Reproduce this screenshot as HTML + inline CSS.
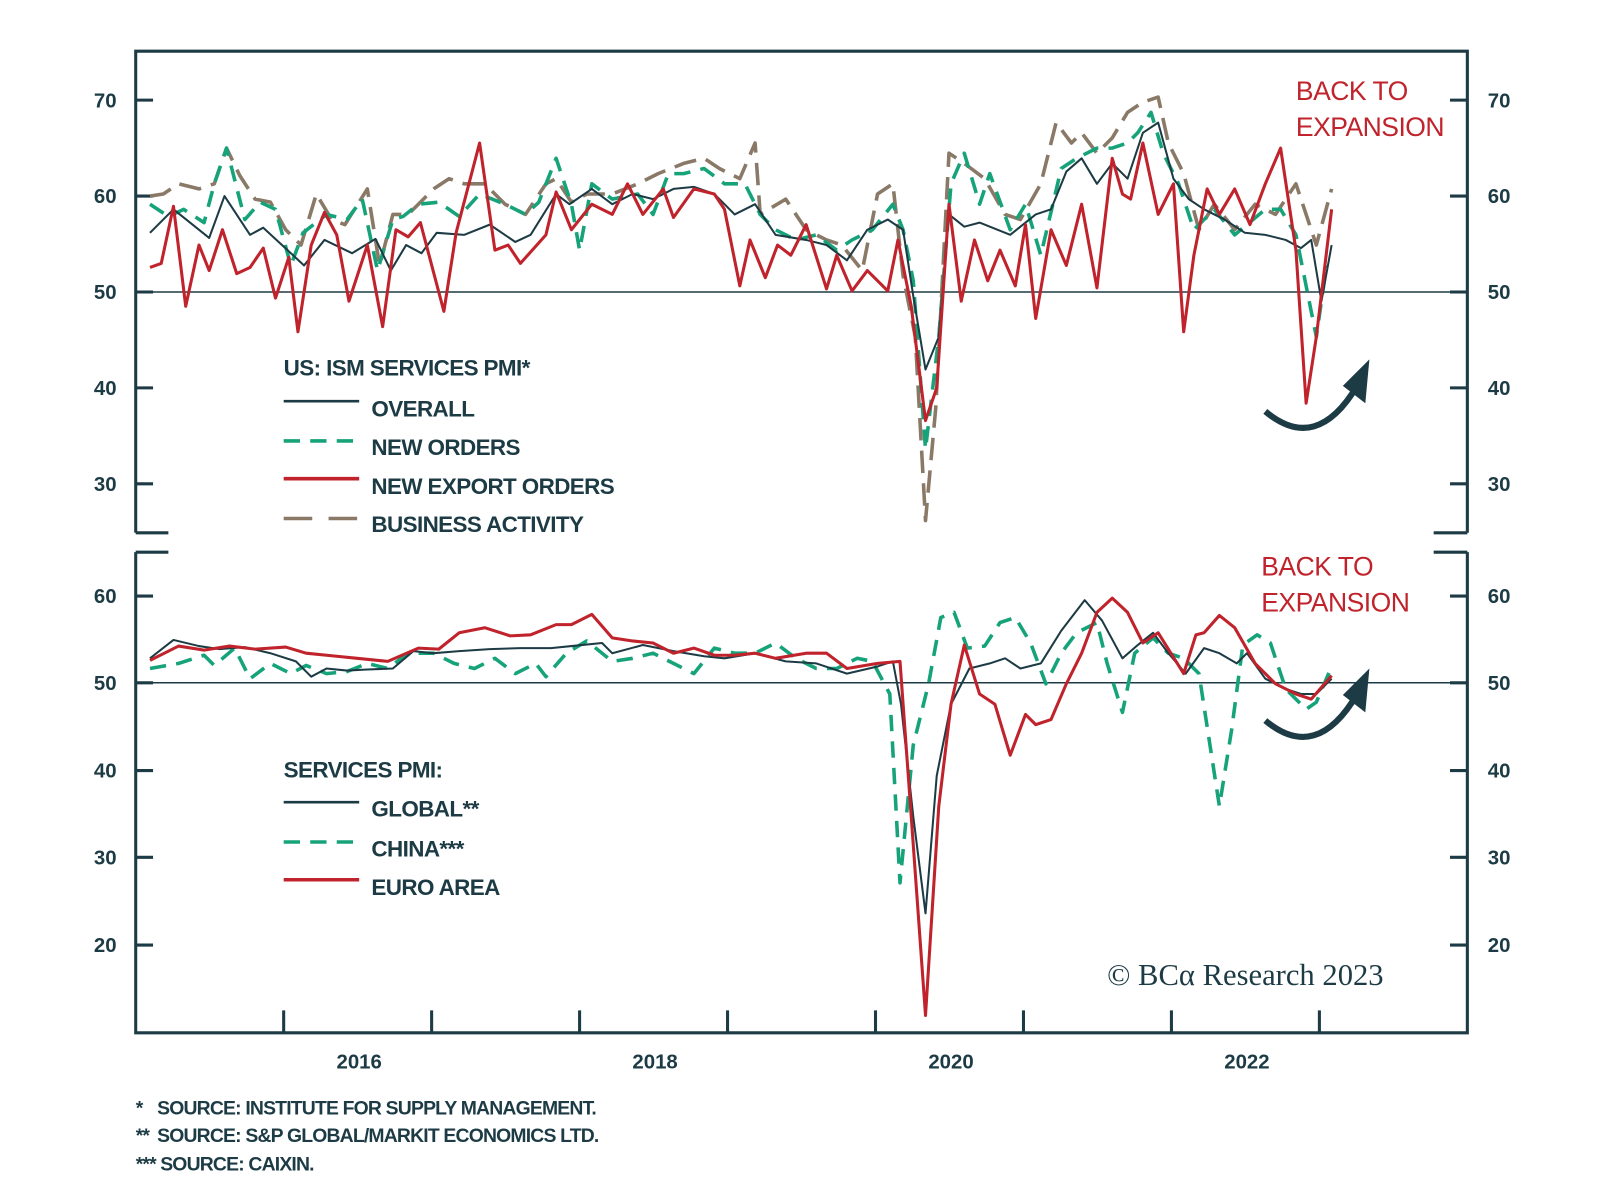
<!DOCTYPE html>
<html><head><meta charset="utf-8"><style>
html,body{margin:0;padding:0;background:#fff;}
svg{display:block;}
text{font-family:"Liberation Sans",sans-serif;fill:#1d3b45;}
.t{font-size:20px;font-weight:bold;}
.lg{font-size:22px;letter-spacing:-0.6px;font-weight:bold;}
.red{fill:#c0232b;font-size:26px;letter-spacing:-0.5px;}
.fn{font-size:19px;letter-spacing:-0.8px;font-weight:bold;white-space:pre;}
</style></head><body>
<svg width="1600" height="1186" viewBox="0 0 1568 1162" xmlns="http://www.w3.org/2000/svg">
<g fill="none" stroke="#1d3b45" stroke-width="3">
<path d="M133,522 L133,50 L1438,50 L1438,522"/>
<path d="M133,522 H165 M1405,522 H1438"/>
<path d="M133,98 H150 M133,192 H150 M133,380 H150 M133,474 H150"/>
<path d="M1438,98 H1421 M1438,192 H1421 M1438,380 H1421 M1438,474 H1421"/>
<path d="M133,541 L133,1012 L1438,1012 L1438,541"/>
<path d="M133,541 H165 M1405,541 H1438"/>
<path d="M133,584 H150 M133,755 H150 M133,840 H150 M133,926 H150"/>
<path d="M1438,584 H1421 M1438,755 H1421 M1438,840 H1421 M1438,926 H1421"/>
<path d="M278,1012 V990 M423,1012 V990 M568,1012 V990 M713,1012 V990 M858,1012 V990 M1003,1012 V990 M1148,1012 V990 M1293,1012 V990"/>
</g>
<g stroke="#1d3b45" stroke-width="1.5"><path d="M133,286 H1438 M133,669 H1438"/></g>
<g stroke="#1d3b45" stroke-width="3"><path d="M133,286 H150 M1438,286 H1421 M133,669 H150 M1438,669 H1421"/></g>

<g class="t">
<text x="92" y="105">70</text><text x="92" y="199">60</text><text x="92" y="293">50</text><text x="92" y="387">40</text><text x="92" y="481">30</text>
<text x="1458" y="105">70</text><text x="1458" y="199">60</text><text x="1458" y="293">50</text><text x="1458" y="387">40</text><text x="1458" y="481">30</text>
<text x="92" y="591">60</text><text x="92" y="676">50</text><text x="92" y="762">40</text><text x="92" y="847">30</text><text x="92" y="933">20</text>
<text x="1458" y="591">60</text><text x="1458" y="676">50</text><text x="1458" y="762">40</text><text x="1458" y="847">30</text><text x="1458" y="933">20</text>
<text x="352" y="1047" text-anchor="middle">2016</text><text x="642" y="1047" text-anchor="middle">2018</text><text x="932" y="1047" text-anchor="middle">2020</text><text x="1222" y="1047" text-anchor="middle">2022</text>
</g>

<g fill="none" stroke-linejoin="round" stroke-width="3">
<polyline stroke="#8a7967" stroke-width="3.5" stroke-dasharray="22,10" points="147,192 160,190 175,180 195,185 210,180 222,145 235,172 250,195 265,198 280,225 295,240 310,190 325,215 338,220 360,185 372,260 385,210 400,210 410,200 425,185 440,175 455,180 475,180 495,200 515,210 535,180 545,175 560,198 575,190 600,190 625,180 645,170 670,160 690,155 705,165 725,175 740,140 745,210 770,195 790,225 810,235 825,240 845,265 860,190 875,180 885,270 897,330 907,510 917,400 930,150 945,160 965,175 985,210 1000,215 1020,180 1035,120 1050,140 1060,130 1075,150 1090,135 1105,110 1120,100 1135,95 1145,140 1160,170 1175,225 1190,200 1210,225 1230,200 1250,210 1270,180 1290,240 1305,185"/>
<polyline stroke="#16a37a" stroke-width="3.5" stroke-dasharray="16,10" points="147,200 165,212 180,205 200,218 210,180 222,145 240,215 255,198 270,205 285,260 297,228 320,210 340,215 355,195 370,265 385,215 395,212 410,200 430,198 450,212 470,190 495,200 515,210 528,198 545,155 560,200 568,245 580,180 600,195 625,190 640,210 655,170 670,170 690,165 710,180 730,180 745,210 760,225 780,235 800,230 820,245 835,235 855,225 875,200 885,225 895,275 907,440 920,330 932,180 945,150 960,200 970,170 990,225 1005,200 1020,250 1040,165 1055,155 1075,145 1090,145 1105,140 1115,130 1128,110 1140,150 1155,180 1170,225 1190,205 1210,230 1240,205 1255,205 1270,230 1290,330 1300,260"/>
<polyline stroke="#1d3b45" stroke-width="2" points="147,228 170,205 205,233 220,192 245,230 258,223 298,260 318,235 345,248 368,234 383,265 398,240 413,248 428,228 455,230 480,220 505,237 520,230 545,190 558,200 580,185 600,200 620,190 640,195 660,185 680,183 700,190 720,210 740,200 760,230 790,235 810,240 830,255 850,225 870,215 885,225 895,290 907,362 920,330 930,210 945,222 960,218 990,230 1015,210 1030,205 1045,168 1060,155 1075,180 1090,160 1105,175 1120,130 1135,120 1150,175 1165,195 1180,205 1200,215 1220,228 1240,230 1260,235 1275,243 1285,235 1295,295 1305,240"/>
<polyline stroke="#c0232b" points="147,262 158,258 170,202 182,300 195,240 205,265 218,225 232,268 245,262 258,243 270,292 283,252 292,325 305,240 318,208 330,230 342,295 360,240 375,320 388,225 400,232 412,218 435,305 447,228 470,140 485,245 498,240 510,258 535,230 545,188 560,225 580,200 600,210 615,180 630,210 650,185 660,213 680,185 700,190 710,205 725,280 735,235 750,272 762,240 775,250 790,220 810,283 820,250 835,285 850,265 870,285 880,235 893,300 907,412 918,380 930,200 942,295 955,235 968,275 980,245 995,280 1005,220 1015,312 1030,225 1045,260 1060,200 1075,282 1090,155 1100,190 1108,195 1120,140 1135,210 1150,180 1160,325 1170,250 1183,185 1195,210 1210,185 1225,220 1240,180 1255,145 1270,245 1280,395 1290,330 1305,205"/>

<polyline stroke="#16a37a" stroke-width="3.5" stroke-dasharray="16,10" points="147,655 175,650 200,642 210,652 230,635 245,665 265,650 285,660 300,652 320,660 340,658 360,650 380,655 400,640 425,640 445,650 465,655 485,645 505,660 525,650 535,663 555,640 575,628 600,648 620,645 640,640 660,650 680,660 700,635 720,640 740,640 760,630 780,645 800,655 820,655 840,645 855,648 872,680 882,865 895,730 910,670 922,605 935,600 948,635 965,633 980,610 995,605 1010,630 1025,670 1040,640 1055,620 1075,610 1085,650 1100,698 1112,640 1130,625 1145,640 1160,645 1175,660 1195,790 1207,715 1218,632 1232,622 1245,630 1260,675 1280,695 1290,688 1305,653"/>
<polyline stroke="#1d3b45" stroke-width="2" points="147,645 170,627 195,633 215,636 240,634 265,640 290,648 305,663 320,655 340,657 360,656 385,655 405,638 425,640 450,638 480,636 510,635 540,635 560,633 590,630 600,640 630,632 660,638 690,643 710,645 740,640 770,648 800,650 830,660 860,653 875,648 883,690 895,800 907,895 918,760 932,690 950,655 970,650 985,645 1000,655 1020,650 1040,618 1063,588 1080,608 1100,645 1115,632 1130,620 1145,640 1162,660 1180,635 1195,640 1212,650 1222,640 1240,665 1260,675 1275,680 1290,680 1305,665"/>
<polyline stroke="#c0232b" points="147,647 175,633 200,637 225,633 250,636 280,634 300,640 330,643 350,645 380,648 410,635 430,636 450,620 475,615 500,623 520,622 545,612 560,612 580,602 600,625 620,628 640,630 660,640 680,635 700,642 720,642 740,640 760,645 790,640 810,640 830,655 860,650 882,648 893,800 907,995 920,790 932,690 945,632 960,680 975,690 990,740 1005,700 1015,710 1030,705 1045,670 1060,640 1075,600 1090,586 1105,600 1120,630 1135,620 1160,660 1172,622 1180,620 1195,603 1210,615 1230,650 1250,670 1270,680 1285,685 1305,662"/>

<path d="M1240,403 Q1290,445 1330,378" stroke="#1d3b45" stroke-width="6"/>
<path d="M1240,706 Q1290,748 1330,680" stroke="#1d3b45" stroke-width="6"/>
</g>
<polygon points="1342,352 1338,395 1316,378" fill="#1d3b45"/>
<polygon points="1342,655 1338,698 1316,681" fill="#1d3b45"/>

<g class="lg">
<text x="278" y="368">US: ISM SERVICES PMI*</text>
<text x="364" y="408">OVERALL</text>
<text x="364" y="446">NEW ORDERS</text>
<text x="364" y="484">NEW EXPORT ORDERS</text>
<text x="364" y="521">BUSINESS ACTIVITY</text>
<text x="278" y="762">SERVICES PMI:</text>
<text x="364" y="800">GLOBAL**</text>
<text x="364" y="839">CHINA***</text>
<text x="364" y="877">EURO AREA</text>
</g>
<g fill="none" stroke-width="3.5">
<path d="M278,393 H352" stroke="#1d3b45" stroke-width="2.5"/>
<path d="M278,432 H352" stroke="#16a37a" stroke-dasharray="16,10"/>
<path d="M278,469 H352" stroke="#c0232b"/>
<path d="M278,508 H352" stroke="#8a7967" stroke-dasharray="28,16"/>
<path d="M278,786 H352" stroke="#1d3b45" stroke-width="2.5"/>
<path d="M278,825 H352" stroke="#16a37a" stroke-dasharray="16,10"/>
<path d="M278,862 H352" stroke="#c0232b"/>
</g>

<text class="red" x="1270" y="98">BACK TO</text>
<text class="red" x="1270" y="133">EXPANSION</text>
<text class="red" x="1236" y="564">BACK TO</text>
<text class="red" x="1236" y="599">EXPANSION</text>

<text x="1085" y="965" style="font-family:'Liberation Serif',serif;font-size:30px;">© BCα Research 2023</text>

<g class="fn">
<text x="133" y="1092">*</text><text x="154" y="1092">SOURCE: INSTITUTE FOR SUPPLY MANAGEMENT.</text>
<text x="133" y="1119">**</text><text x="154" y="1119">SOURCE: S&amp;P GLOBAL/MARKIT ECONOMICS LTD.</text>
<text x="133" y="1147">***</text><text x="157" y="1147">SOURCE: CAIXIN.</text>
</g>
</svg>
</body></html>
